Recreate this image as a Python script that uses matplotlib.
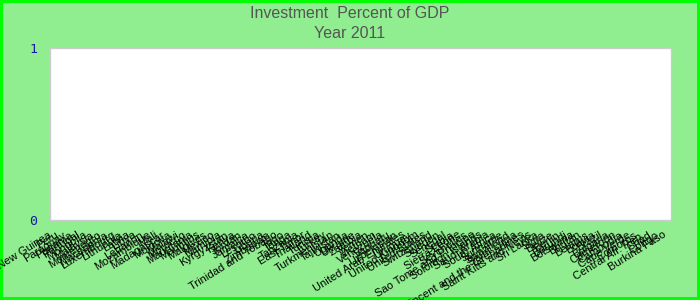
import matplotlib
matplotlib.use("Agg")
import matplotlib.pyplot as plt

countries = [
    "Papua New Guinea", "Peru", "Paraguay", "Panama", "Portugal", "Mongolia",
    "Malaysia", "Montenegro", "Macedonia", "Luxembourg", "Lithuania", "Latvia",
    "Libya", "Lebanon", "Mozambique", "Mali", "Madagascar", "Moldova", "Malawi",
    "Morocco", "Mauritania", "Mauritius", "Maldives", "Mexico", "Namibia",
    "Kyrgyzstan", "Kenya", "Jordan", "Jamaica", "Lesotho", "Liberia",
    "Zimbabwe", "Trinidad and Tobago", "Togo", "Tonga", "Tanzania", "East Timor",
    "Thailand", "Tunisia", "Turkey", "Turkmenistan", "Tajikistan", "Uganda",
    "Ukraine", "Zambia", "Yemen", "Vietnam", "Venezuela", "Vanuatu", "Uzbekistan",
    "United Arab Emirates", "Uruguay", "United Kingdom", "United States",
    "Switzerland", "Sweden", "Senegal", "Serbia", "Sierra Leone",
    "Seychelles", "Sao Tome and Principe", "Solomon Islands",
    "Saudi Arabia", "South Africa", "Suriname",
    "Swaziland", "Saint Lucia", "Saint Vincent and the Grenadines",
    "Saint Kitts and Nevis", "Sri Lanka", "Syria", "Belize", "Benin", "Burundi",
    "Botswana", "Bhutan", "Belarus", "Bolivia", "Brazil", "Bulgaria",
    "Cameroon", "Cambodia", "Cape Verde", "Comoros",
    "Central Afr. Rep.", "Chad", "Congo", "Burkina Faso",
]

values = [
    0, 0, 0, 0, 0, 0, 0, 0, 0, 0, 0, 0, 0, 0, 0, 0, 0, 0, 0, 0, 0, 0,
    0, 0, 0, 0, 0, 0, 0, 0, 0, 0, 0, 0, 0, 0, 0, 0, 0, 0, 0, 0, 0, 0,
    0, 0, 0, 0, 0, 0, 0, 0, 0, 0, 0, 0, 0, 0, 0, 0, 0, 0, 0, 0, 0, 0,
    0, 0, 0, 0, 0, 0, 0, 0, 0, 0, 0, 0, 0, 0, 0, 0, 0, 0, 0, 0, 0, 0,
]

y_ticks = [0, 1]
title_lines = ["Investment  Percent of GDP", "Year 2011"]

fig = plt.figure(figsize=(7, 3), dpi=100)
fig.patch.set_facecolor("#90EE90")
fig.patch.set_edgecolor("#00FF00")
fig.patch.set_linewidth(3)

ax = fig.add_axes([50/700, 1-220/300, 621/700, 172/300])
ax.set_facecolor("white")
x = list(range(len(countries)))
ax.bar(x, values[:len(countries)], width=0.6, color="#3366cc")
ax.set_xlim(-0.5, len(countries) - 0.5)
ax.set_ylim(0, 1)
ax.set_yticks(y_ticks)
ax.set_yticklabels([str(t) for t in y_ticks], color="#1a1aa0",
                   fontsize=9.5, family="DejaVu Sans Mono")
ax.tick_params(axis="y", length=0, pad=9)
ax.set_xticks(x)
ax.set_xticklabels(countries, rotation=32, ha="right", va="top",
                   fontsize=8, family="Liberation Sans", color="#000000")
ax.tick_params(axis="x", length=0, pad=7)
for s in ax.spines.values():
    s.set_color("#cccccc")
    s.set_linewidth(1)

fig.text(0.5, 1-13/300, title_lines[0], ha="center", va="center",
         fontsize=11.5, color="#555555", family="Liberation Sans")
fig.text(0.5, 1-33/300, title_lines[1], ha="center", va="center",
         fontsize=11.5, color="#555555", family="Liberation Sans")

fig.savefig("out.png", dpi=100, facecolor=fig.get_facecolor(),
            edgecolor=fig.patch.get_edgecolor())
